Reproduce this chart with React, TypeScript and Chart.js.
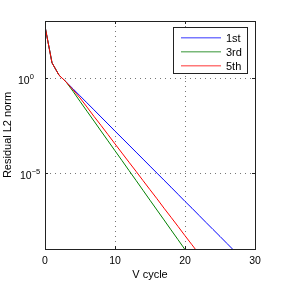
import React, { useEffect, useRef } from "react";
import { Chart, registerables } from "chart.js";

Chart.register(...registerables);

const cycles = [0, 1, 2, 3, 4, 5, 6, 7, 8, 9, 10, 11, 12, 13, 14, 15, 16, 17, 18, 19, 20, 21, 22, 23, 24, 25, 26, 27];
const firstValues = [525, 6.3, 1.41, 0.63, 0.27, 0.115, 0.049, 0.021, 8.9e-3, 3.8e-3, 1.6e-3, 6.9e-4, 2.95e-4, 1.26e-4, 5.4e-5, 2.3e-5, 9.8e-6, 4.2e-6, 1.8e-6, 7.6e-7, 3.2e-7, 1.4e-7, 5.9e-8, 2.5e-8, 1.07e-8, 4.6e-9, 1.95e-9, 8.3e-10];
const thirdValues = [525, 6.3, 1.41, 0.63, 0.2, 0.059, 0.0178, 5.4e-3, 1.62e-3, 4.9e-4, 1.48e-4, 4.5e-5, 1.35e-5, 4.1e-6, 1.23e-6, 3.7e-7, 1.12e-7, 3.4e-8, 1.02e-8, 3.1e-9, 9.3e-10];
const fifthValues = [525, 6.3, 1.41, 0.63, 0.24, 0.089, 0.0295, 9.5e-3, 3.2e-3, 1.05e-3, 3.4e-4, 1.12e-4, 3.7e-5, 1.23e-5, 4.0e-6, 1.32e-6, 4.4e-7, 1.41e-7, 4.7e-8, 1.55e-8, 5.0e-9, 1.66e-9, 5.5e-10];
const seriesLabels = ["1st", "3rd", "5th"];
const seriesColors = ["#0000ff", "#008000", "#ff0000"];
const legendColors = ["#7878ff", "#78b878", "#ff7878"];
const xTicks = [0, 10, 20, 30];
const yTicks = [1e-9, 1e-5, 1, 1e3];
const yLabelTicks = [1e-5, 1];
const xTitle = "V cycle";
const yTitle = "Residual L2 norm";

const FONT = "'Liberation Sans', Arial, Helvetica, sans-serif";

function toPoints(values: number[]) {
  return values.map((v, i) => ({ x: cycles[i], y: v }));
}

const framePlugin = {
  id: "matlabFrame",
  afterDraw(chart: any) {
    const ctx = chart.ctx as CanvasRenderingContext2D;
    const area = chart.chartArea;
    const xs = chart.scales.x;
    const ys = chart.scales.y;
    ctx.save();
    // frame
    ctx.strokeStyle = "#222";
    ctx.lineWidth = 1;
    ctx.strokeRect(Math.round(area.left) + 0.5, Math.round(area.top) + 0.5, Math.round(area.right - area.left), Math.round(area.bottom - area.top));
    // inner tick marks
    const tl = 3;
    ctx.beginPath();
    xTicks.forEach((t) => {
      const px = Math.round(xs.getPixelForValue(t)) + 0.5;
      ctx.moveTo(px, area.bottom);
      ctx.lineTo(px, area.bottom - tl);
      ctx.moveTo(px, area.top);
      ctx.lineTo(px, area.top + tl);
    });
    yLabelTicks.forEach((t) => {
      const py = Math.round(ys.getPixelForValue(t)) + 0.5;
      ctx.moveTo(area.left, py);
      ctx.lineTo(area.left + tl, py);
      ctx.moveTo(area.right, py);
      ctx.lineTo(area.right - tl, py);
    });
    ctx.stroke();

    // x tick labels
    ctx.fillStyle = "#000";
    ctx.font = `10.5px ${FONT}`;
    ctx.textAlign = "center";
    ctx.textBaseline = "alphabetic";
    xTicks.forEach((t) => {
      ctx.fillText(String(t), xs.getPixelForValue(t), area.bottom + 15);
    });

    // y tick labels with superscript exponent
    yLabelTicks.forEach((t) => {
      const py = ys.getPixelForValue(t);
      const exp = Math.round(Math.log10(t));
      const expStr = exp < 0 ? "\u2212" + String(-exp) : String(exp);
      ctx.textAlign = "left";
      ctx.font = `10.5px ${FONT}`;
      const baseW = ctx.measureText("10").width;
      const x0 = exp < 0 ? 20 : 18;
      ctx.fillText("10", x0, py + 5.5);
      ctx.font = `7.5px ${FONT}`;
      ctx.fillText(expStr, x0 + baseW, py + 0.5);
    });

    // axis titles
    ctx.font = `11px ${FONT}`;
    ctx.textAlign = "center";
    ctx.fillText(xTitle, (area.left + area.right) / 2, 277.5);
    ctx.save();
    ctx.translate(10.5, (area.top + area.bottom) / 2);
    ctx.rotate(-Math.PI / 2);
    ctx.fillText(yTitle, 0, 0);
    ctx.restore();

    // legend
    const lx = 173, ly = 27, lw = 74, lh = 46;
    ctx.fillStyle = "#fff";
    ctx.fillRect(lx, ly, lw, lh);
    ctx.strokeStyle = "#222";
    ctx.lineWidth = 1;
    ctx.strokeRect(lx + 0.5, ly + 0.5, lw, lh);
    ctx.font = `11px ${FONT}`;
    ctx.textAlign = "left";
    seriesLabels.forEach((lab, i) => {
      const ry = ly + 10 + i * 14;
      ctx.fillStyle = legendColors[i];
      ctx.fillRect(lx + 8, ry, 40, 1.5);
      ctx.fillStyle = "#000";
      ctx.fillText(lab, lx + 53, ry + 4.5);
    });
    ctx.restore();
  },
};

export default function App() {
  const canvasRef = useRef<HTMLCanvasElement | null>(null);

  useEffect(() => {
    if (!canvasRef.current) return;
    const seriesValues = [firstValues, thirdValues, fifthValues];
    const chart = new Chart(canvasRef.current, {
      type: "line",
      data: {
        datasets: seriesValues.map((vals, i) => ({
          label: seriesLabels[i],
          data: toPoints(vals),
          borderColor: seriesColors[i],
          backgroundColor: seriesColors[i],
          borderWidth: 1,
          pointRadius: 0,
          tension: 0,
          fill: false,
          order: 3 - i,
        })),
      },
      options: {
        animation: false,
        responsive: false,
        maintainAspectRatio: false,
        events: [],
        layout: { padding: { top: 21, right: 26, left: 0, bottom: 0 } },
        plugins: { legend: { display: false }, tooltip: { enabled: false }, title: { display: false } },
        scales: {
          x: {
            type: "linear",
            min: 0,
            max: 30,
            afterBuildTicks: (s: any) => {
              s.ticks = xTicks.map((v) => ({ value: v }));
            },
            afterFit: (s: any) => {
              s.height = 32;
            },
            ticks: { display: false },
            grid: { color: "#777", lineWidth: 1, drawTicks: false },
            border: { display: false, dash: [1, 4] },
          },
          y: {
            type: "logarithmic",
            min: 1e-9,
            max: 1e3,
            afterBuildTicks: (s: any) => {
              s.ticks = yTicks.map((v) => ({ value: v }));
            },
            afterFit: (s: any) => {
              s.width = 45;
            },
            ticks: { display: false },
            grid: { color: "#777", lineWidth: 1, drawTicks: false },
            border: { display: false, dash: [1, 4] },
          },
        },
      },
      plugins: [framePlugin],
    } as any);
    return () => chart.destroy();
  }, []);

  return (
    <div style={{ position: "absolute", left: 0, top: 0, width: 281, height: 281, background: "#fff" }}>
      <canvas ref={canvasRef} width={281} height={281} style={{ display: "block" }} />
    </div>
  );
}
